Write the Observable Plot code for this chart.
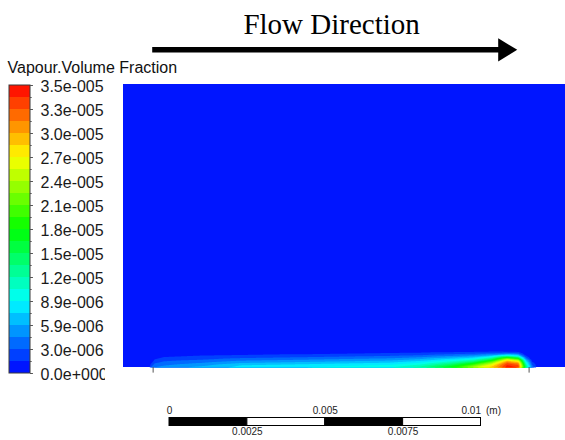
<!DOCTYPE html>
<html><head><meta charset="utf-8">
<script src="https://cdn.jsdelivr.net/npm/d3@7"></script>
<script src="https://cdn.jsdelivr.net/npm/@observablehq/plot@0.6"></script>
<style>
html,body{margin:0;padding:0;background:#fff;}
#wrap{position:relative;width:565px;height:440px;overflow:hidden;}
#wrap > svg{position:absolute;left:0;top:0;}
</style></head><body><div id="wrap"></div>
<script>
// ---------------- data ----------------
// legend (bottom to top), values in units of 1e-6
const legendTitle = "Vapour.Volume Fraction";
const legendLabels = ["0.0e+000","3.0e-006","5.9e-006","8.9e-006","1.2e-005","1.5e-005","1.8e-005","2.1e-005","2.4e-005","2.7e-005","3.0e-005","3.3e-005","3.5e-005"];
const legendMin = 0, legendMax = 35.47, bandCount = 24;

// vapour volume fraction field near the heated wall (×1e-6)
const stationX = [0.80, 0.90, 1.00, 1.30, 2.5, 3.8, 6.0, 8.5, 9.5, 10.5, 11.2, 11.8, 12.3, 12.65, 12.9, 13.1, 13.3]; // mm from domain inlet
const rowY = [0, 0.065, 0.13, 0.195, 0.26, 0.325, 0.39, 0.455, 0.52, 0.65]; // mm above wall
const profiles = [
  [0,0,0,0,0,0,0,0,0,0],
  [3.5,2.5,1.6,0.8,0,0,0,0,0,0],
  [4.5,3.8,3.0,2.2,1.5,0.8,0,0,0,0],
  [5.0,4.4,3.7,3.0,2.3,1.6,0.8,0,0,0],
  [6.5,5.6,4.7,3.7,2.8,2.1,1.4,0.8,0.3,0],
  [8.0,7.5,6.2,4.9,3.6,2.6,1.6,0.9,0.3,0],
  [9.0,8.2,7.0,5.6,4.3,3.1,2.0,1.1,0.4,0],
  [10.2,9.2,7.9,6.5,5.1,3.8,2.6,1.6,0.7,0],
  [12.5,11,9.4,7.8,6.1,4.5,3.0,1.8,0.8,0],
  [18,15.5,13,10.5,8,5.8,3.8,2.2,0.9,0],
  [24,21,17.5,13.5,10,7,4.5,2.5,1.0,0],
  [29,27,24,20,15,10.5,6,3,1.2,0],
  [35,34.3,32.8,30,25,17,9,3.5,1.0,0],
  [34,33,31,27,21,14,7,3,0.8,0],
  [14,12.5,10.5,8,5.5,3.0,1.2,0.3,0,0],
  [4,3.2,2.2,1.2,0.4,0,0,0,0,0],
  [0,0,0,0,0,0,0,0,0,0]
];
const domainLength = 15, domainHeight = 9.07; // mm
const heaterEdges = [0.95, 13.0]; // mm

// flow arrow + title (mm, in domain coordinates)
const arrowShaft = [{x1: 0.92, x2: 12.05, y: 10.18}];
const arrowHead = [{x: 12.62, y: 10.18}, {x: 12.01, y: 10.55}, {x: 12.01, y: 9.81}];
const title = [{x: 6.67, y: 10.7, text: "Flow Direction"}];

// scale bar (m)
const scaleSegments = [0, 0.0025, 0.005, 0.0075];
const scaleTopMid = [{v: 0, t: "0"}, {v: 0.005, t: "0.005"}];
const scaleTopEnd = [{v: 0.01, t: "0.01"}];
const scaleBottom = [{v: 0.0025, t: "0.0025"}, {v: 0.0075, t: "0.0075"}];
const scaleUnit = "(m)";

// ---------------- build ----------------
const bandColors = d3.range(bandCount).map(i => d3.hsl(240 - (i + 0.5) * 240 / bandCount, 1, 0.5).formatHex());
const thresholds = d3.range(1, bandCount).map(i => legendMin + i * (legendMax - legendMin) / bandCount);
const fieldPoints = [];
stationX.forEach((x, i) => rowY.forEach((y, j) => fieldPoints.push({x, y, v: profiles[i][j]})));

const wrap = document.getElementById("wrap");
const baseStyle = {fontFamily: "'Liberation Sans', Arial, sans-serif", background: "transparent"};

const main = Plot.plot({
  width: 565, height: 440, margin: 0,
  style: baseStyle,
  x: {domain: [0, 442 / 31.2], range: [123, 565], axis: null},
  y: {domain: [0, domainHeight], range: [367, 84], axis: null},
  color: {type: "threshold", domain: thresholds, range: bandColors},
  marks: [
    Plot.rect([{}], {x1: 0, x2: domainLength, y1: 0, y2: domainHeight, fill: bandColors[0], clip: true}),
    Plot.contour(fieldPoints, {
      x: "x", y: "y", value: "v", fill: "value", stroke: "none",
      thresholds, interpolate: "barycentric",
      x1: 0.5, x2: 13.8, y1: 0, y2: 0.8, pixelSize: 0.5
    }),
    Plot.ruleX(heaterEdges, {y1: 0, y2: -0.18, stroke: "#555", strokeWidth: 1}),
    Plot.link(arrowShaft, {x1: "x1", x2: "x2", y1: "y", y2: "y", stroke: "black", strokeWidth: 5.5}),
    Plot.line(arrowHead, {x: "x", y: "y", fill: "black", stroke: "none"}),
    Plot.text(title, {x: "x", y: "y", text: "text", fontFamily: "'Liberation Serif', 'Times New Roman', serif", fontSize: 29, lineAnchor: "bottom", fill: "black"})
  ]
});
wrap.appendChild(main);

const legend = Plot.plot({
  width: 200, height: 440, margin: 0, marginRight: 95,
  style: baseStyle,
  x: {domain: [0, 1], range: [9, 30], axis: null},
  y: {domain: [0, bandCount], range: [373, 85], axis: null},
  color: {type: "identity"},
  marks: [
    Plot.rect(d3.range(bandCount), {x1: 0, x2: 1, y1: d => d, y2: d => d + 1, fill: d => bandColors[d]}),
    Plot.rect([{}], {x1: 0, x2: 1, y1: 0, y2: bandCount, fill: "none", stroke: "#3a3a3a", strokeWidth: 1}),
    Plot.ruleY(d3.range(bandCount + 1), {x1: 1, x2: d => d % 2 === 0 ? 1.14 : 1.08, stroke: "#555"}),
    Plot.text(legendLabels, {x: 1, y: (d, i) => i * 2, text: d => d, textAnchor: "start", dx: 10, dy: 1.5, fontSize: 16, fill: "#1a1a1a", clip: true}),
    Plot.text([legendTitle], {frameAnchor: "top-left", text: d => d, dx: 7, dy: 72, lineAnchor: "bottom", textAnchor: "start", fontSize: 16, fill: "#111"})
  ]
});
wrap.appendChild(legend);

const scalebar = Plot.plot({
  width: 565, height: 440, margin: 0,
  style: baseStyle,
  x: {domain: [0, 0.01], range: [169, 480.5], axis: null},
  y: {domain: [0, 1], range: [425.5, 417.5], axis: null},
  marks: [
    Plot.rect(scaleSegments, {x1: d => d, x2: d => d + 0.0025, y1: 0, y2: 1, fill: (d, i) => i % 2 ? "white" : "black", stroke: "black", strokeWidth: 1}),
    Plot.text(scaleTopMid, {x: "v", y: 1, text: "t", dy: -4.3, lineAnchor: "bottom", fontSize: 10, fill: "#222"}),
    Plot.text(scaleTopEnd, {x: "v", y: 1, text: "t", dy: -4.3, lineAnchor: "bottom", textAnchor: "end", fontSize: 10, fill: "#222"}),
    Plot.text([scaleUnit], {x: 0.01, y: 1, text: d => d, dx: 5, dy: -4.3, lineAnchor: "bottom", textAnchor: "start", fontSize: 10, fill: "#222"}),
    Plot.text(scaleBottom, {x: "v", y: 0, text: "t", dy: 8.8, lineAnchor: "bottom", fontSize: 10, fill: "#222"})
  ]
});
wrap.appendChild(scalebar);
</script></body></html>
